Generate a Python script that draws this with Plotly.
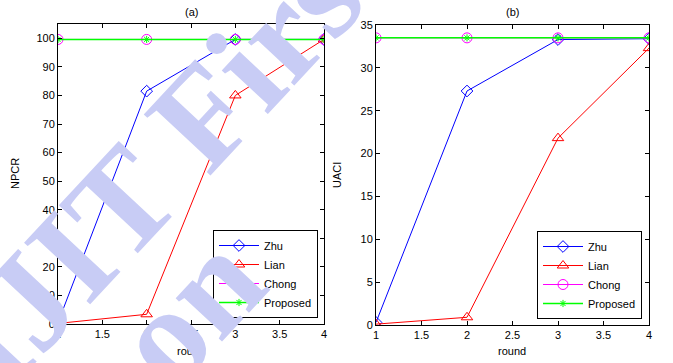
import plotly.graph_objects as go

rounds = [1, 2, 3, 4]
npcr_zhu = [0.5, 81.5, 99.6, 99.6]
npcr_lian = [0.2, 3.4, 80.0, 99.6]
npcr_chong = [99.6, 99.6, 99.6, 99.6]
npcr_proposed = [99.6, 99.6, 99.6, 99.6]

uaci_zhu = [0.3, 27.3, 33.3, 33.4]
uaci_lian = [0.1, 0.9, 21.8, 32.3]
uaci_chong = [33.5, 33.5, 33.5, 33.5]
uaci_proposed = [33.5, 33.5, 33.5, 33.5]

series_names = ["Zhu", "Lian", "Chong", "Proposed"]
colors = ["#0000ff", "#ff0000", "#ff00ff", "#00ff00"]
symbols = ["diamond-open", "triangle-up-open", "circle-open", "asterisk-open"]
msizes = [9, 10, 10, 6]

FONT = "Liberation Sans, Arial, sans-serif"

fig = go.Figure()

left = [npcr_zhu, npcr_lian, npcr_chong, npcr_proposed]
right = [uaci_zhu, uaci_lian, uaci_chong, uaci_proposed]

for i, name in enumerate(series_names):
    fig.add_trace(go.Scatter(
        x=rounds, y=left[i], name=name, mode="lines+markers",
        line=dict(color=colors[i], width=1.5 if i == 3 else 1),
        marker=dict(symbol=symbols[i], size=msizes[i], color=colors[i],
                    line=dict(color=colors[i], width=1)),
        xaxis="x", yaxis="y", legend="legend"))
for i, name in enumerate(series_names):
    fig.add_trace(go.Scatter(
        x=rounds, y=right[i], name=name, mode="lines+markers",
        line=dict(color=colors[i], width=1.5 if i == 3 else 1),
        marker=dict(symbol=symbols[i], size=msizes[i], color=colors[i],
                    line=dict(color=colors[i], width=1)),
        xaxis="x2", yaxis="y2", legend="legend2"))

axis_common = dict(showgrid=False, zeroline=False, showline=True, mirror="ticks",
                   linecolor="black", linewidth=1, ticks="inside", ticklen=4,
                   tickcolor="black", automargin=False,
                   tickfont=dict(family=FONT, size=11, color="black"))

legend_common = dict(bgcolor="white", bordercolor="black", borderwidth=1,
                     font=dict(family=FONT, size=11, color="black"),
                     xanchor="right", yanchor="bottom", tracegroupgap=0,
                     itemwidth=40)

xt = [1, 1.5, 2, 2.5, 3, 3.5, 4]
xtl = ["1", "1.5", "2", "2.5", "3", "3.5", "4"]

fig.update_layout(
    width=673, height=363,
    margin=dict(l=0, r=0, t=0, b=0, pad=0, autoexpand=False),
    paper_bgcolor="white", plot_bgcolor="white",
    xaxis=dict(domain=[58/673, 324/673], range=[1, 4], tickvals=xt, ticktext=xtl,
               anchor="y", **axis_common),
    yaxis=dict(domain=[(363-324)/363, (363-24)/363], range=[0, 105], dtick=10, anchor="x",
               **axis_common),
    xaxis2=dict(domain=[376/673, 649/673], range=[1, 4], tickvals=xt, ticktext=xtl,
                anchor="y2", **axis_common),
    yaxis2=dict(domain=[(363-325)/363, (363-25)/363], range=[0, 35], dtick=5, anchor="x2",
                **axis_common),
    legend=dict(x=318/673, y=(363-318)/363, **legend_common),
    legend2=dict(x=642/673, y=(363-319)/363, **legend_common),
    showlegend=True,
)

ann_font = dict(family=FONT, size=11, color="black")
def lab(text, px, py, angle=0):
    return dict(text=text, x=px/673, y=(363-py)/363, xref="paper", yref="paper",
                showarrow=False, textangle=angle, font=ann_font,
                xanchor="center", yanchor="middle")

annotations = [
    lab("(a)", 191, 12),
    lab("(b)", 512, 12),
    lab("NPCR", 15, 174, -90),
    lab("UACI", 337, 175, -90),
    lab("round", 191, 351),
    lab("round", 512, 351),
]
wm_font = dict(family="Liberation Serif, Times New Roman, serif", size=138, color="rgb(200,204,245)",
               weight="bold")
annotations += [
    dict(text="IJIT First", x=168/673, y=(363-152)/363, xref="paper", yref="paper", showarrow=False,
         textangle=-47, font=wm_font, xanchor="center", yanchor="middle"),
    dict(text=".on", x=176/673, y=(363-322)/363, xref="paper", yref="paper", showarrow=False,
         textangle=-47, font=wm_font, xanchor="center", yanchor="middle"),
]
fig.update_layout(annotations=annotations)

fig.write_html("out.html", config={"displayModeBar": False},
               post_script="document.body.style.margin='0';document.body.style.padding='0';"
                           "document.body.style.overflow='hidden';")
